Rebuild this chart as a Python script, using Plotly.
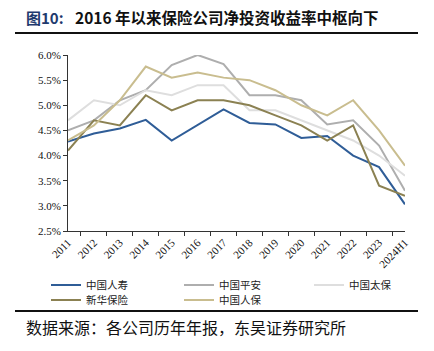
import plotly.graph_objects as go

years = ["2011", "2012", "2013", "2014", "2015", "2016", "2017", "2018", "2019", "2020", "2021", "2022", "2023", "2024H1"]
china_life = [4.28, 4.44, 4.54, 4.71, 4.30, 4.61, 4.92, 4.65, 4.62, 4.35, 4.39, 4.00, 3.77, 3.03]
ping_an = [4.50, 4.70, 5.10, 5.30, 5.80, 6.00, 5.82, 5.20, 5.20, 5.10, 4.62, 4.70, 4.20, 3.30]
cpic = [4.70, 5.10, 5.00, 5.30, 5.20, 5.40, 5.40, 4.90, 4.90, 4.70, 4.50, 4.30, 4.00, 3.60]
nci = [4.10, 4.70, 4.60, 5.20, 4.90, 5.10, 5.10, 5.00, 4.80, 4.60, 4.30, 4.60, 3.40, 3.20]
picc = [4.30, 4.60, 5.10, 5.77, 5.55, 5.65, 5.55, 5.50, 5.30, 5.00, 4.80, 5.10, 4.50, 3.80]

names = ["中国人寿", "中国平安", "中国太保", "新华保险", "中国人保"]
series = [china_life, ping_an, cpic, nci, picc]
colors = ["#2f5d97", "#aeaeae", "#dedede", "#8b8152", "#c9bd8f"]
legend_ids = ["legend", "legend2", "legend3", "legend4", "legend5"]

fig = go.Figure()
for n, s, c, lg in zip(names, series, colors, legend_ids):
    fig.add_trace(go.Scatter(x=years, y=s, name=n, mode="lines", legend=lg,
                             line=dict(color=c, width=2)))

serif = "Liberation Serif, Times New Roman, serif"
cjk = "Noto Sans CJK SC, sans-serif"

plot_w, plot_h, L, T = 337, 176, 68, 55
def px_x(px):
    return (px - L) / plot_w
def px_y(py):
    return (T + plot_h - py) / plot_h

leg_common = dict(orientation="v", xanchor="left", yanchor="middle",
                  font=dict(family=cjk, size=10.5, color="#222"),
                  itemwidth=30, bgcolor="rgba(0,0,0,0)", borderwidth=0)
leg_pos = [(46, 285), (179, 285), (309, 285), (46, 300), (179, 300)]
legend_layout = {}
for lg, (lx, ly) in zip(legend_ids, leg_pos):
    legend_layout[lg] = dict(leg_common, x=px_x(lx), y=px_y(ly))

fig.update_layout(
    width=434, height=351,
    margin=dict(l=L, r=434 - L - plot_w, t=T, b=351 - T - plot_h),
    paper_bgcolor="white", plot_bgcolor="white",
    showlegend=True,
    xaxis=dict(type="category", tickangle=-45, showline=True, linecolor="#333",
               linewidth=1, ticks="outside", ticklen=4, tickcolor="#333",
               tickson="boundaries", showgrid=False, automargin=False,
               tickfont=dict(family=serif, size=11, color="#111")),
    yaxis=dict(range=[2.5, 6.0], dtick=0.5, tickformat=".1f", ticksuffix="%",
               showline=True, linecolor="#333", linewidth=1, ticks="outside",
               ticklen=4, tickcolor="#333", showgrid=False, zeroline=False,
               automargin=False,
               tickfont=dict(family=serif, size=11, color="#111")),
    font=dict(family=cjk),
    **legend_layout,
)

fig.add_annotation(xref="paper", yref="paper", x=px_x(24), y=px_y(17),
                   xanchor="left", yanchor="middle", showarrow=False, align="left",
                   text="<b>图10:</b>",
                   font=dict(family=cjk, size=15, color="#1f3a6e"))
fig.add_annotation(xref="paper", yref="paper", x=px_x(73), y=px_y(17),
                   xanchor="left", yanchor="middle", showarrow=False, align="left",
                   text="<b>2016 年以来保险公司净投资收益率中枢向下</b>",
                   font=dict(family=cjk, size=15.5, color="#111"))
fig.add_annotation(xref="paper", yref="paper", x=px_x(24), y=px_y(327),
                   xanchor="left", yanchor="middle", showarrow=False, align="left",
                   text="数据来源：各公司历年年报，东吴证券研究所",
                   font=dict(family=cjk, size=16, color="#111"))

fig.add_shape(type="line", xref="paper", yref="paper", x0=px_x(15), x1=px_x(418),
              y0=px_y(33), y1=px_y(33), line=dict(color="#111", width=2))
fig.add_shape(type="line", xref="paper", yref="paper", x0=px_x(15), x1=px_x(418),
              y0=px_y(311), y1=px_y(311), line=dict(color="#111", width=2))

fig.write_html("out.html")
